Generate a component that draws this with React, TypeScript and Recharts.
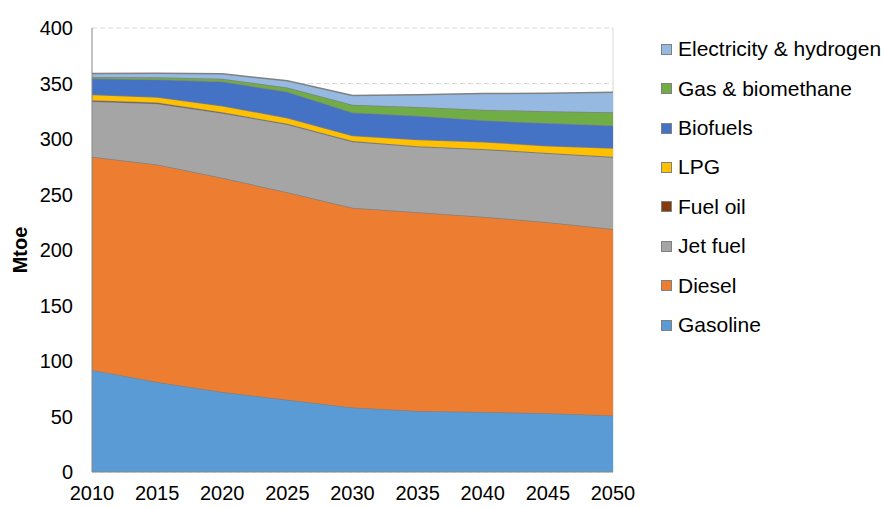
import { AreaChart, Area, XAxis, YAxis, CartesianGrid } from "recharts";

const years = [2010, 2015, 2020, 2025, 2030, 2035, 2040, 2045, 2050];

// Mtoe by fuel
const gasoline = [92, 81, 72, 65, 58, 55, 54, 53, 51];
const diesel = [192, 196, 193, 187, 180, 179, 176, 172, 168];
const jetFuel = [50, 55, 58.5, 61.3, 59.7, 59.2, 60.7, 62.2, 64.7];
const fuelOil = [1, 0.8, 0.5, 0.5, 0.4, 0.3, 0.3, 0.3, 0.3];
const lpg = [5, 5, 6, 5.4, 5, 6, 6.6, 6.5, 8];
const biofuels = [14.4, 15.9, 21.8, 23.4, 20.8, 21.5, 19.2, 20.4, 20.2];
const gasBiomethane = [1.5, 2, 2.5, 3.7, 7, 7.8, 9.6, 10.5, 12];
const electricity = [3, 3.6, 4.4, 6.2, 8.3, 11, 14.5, 16.3, 18];

const yTicks = [0, 50, 100, 150, 200, 250, 300, 350, 400];

// bottom of the stack first
const series = [
  { key: "gasoline", name: "Gasoline", values: gasoline, color: "#5b9bd5" },
  { key: "diesel", name: "Diesel", values: diesel, color: "#ed7d31" },
  { key: "jet", name: "Jet fuel", values: jetFuel, color: "#a5a5a5" },
  { key: "fuelOil", name: "Fuel oil", values: fuelOil, color: "#843c0c" },
  { key: "lpg", name: "LPG", values: lpg, color: "#ffc000" },
  { key: "bio", name: "Biofuels", values: biofuels, color: "#4472c4" },
  { key: "gas", name: "Gas & biomethane", values: gasBiomethane, color: "#70ad47" },
  { key: "elec", name: "Electricity & hydrogen", values: electricity, color: "#95b9e1" },
];

const data = years.map((year, i) => {
  const row: any = { year };
  series.forEach((s) => {
    row[s.key] = s.values[i];
  });
  return row;
});

const FONT = '"Liberation Sans", Arial, sans-serif';

export default function App() {
  return (
    <div
      style={{
        position: "absolute",
        left: 0,
        top: 0,
        width: 885,
        height: 508,
        background: "#fff",
        fontFamily: FONT,
      }}
    >
      <AreaChart
        width={885}
        height={508}
        data={data}
        margin={{ top: 28, right: 272, left: 0, bottom: 0 }}
      >
        <CartesianGrid vertical={false} stroke="#d9d9d9" strokeDasharray="5 3" />
        <CartesianGrid horizontal={false} verticalValues={[2050]} stroke="#d9d9d9" />
        <XAxis
          dataKey="year"
          interval={0}
          height={36}
          tickLine={false}
          tickSize={0}
          tickMargin={14}
          axisLine={{ stroke: "#868686" }}
          tick={{ fill: "#000", fontSize: 20, fontFamily: FONT }}
        />
        <YAxis
          width={92}
          domain={[0, 400]}
          ticks={yTicks}
          interval={0}
          tickLine={false}
          tickSize={0}
          tickMargin={19}
          axisLine={{ stroke: "#868686" }}
          tick={{ fill: "#000", fontSize: 20, fontFamily: FONT }}
        />
        {series.map((s) => (
          <Area
            key={s.key}
            type="linear"
            dataKey={s.key}
            name={s.name}
            stackId="1"
            fill={s.color}
            fillOpacity={1}
            stroke="#808080"
            strokeWidth={1.5}
            isAnimationActive={false}
          />
        ))}
      </AreaChart>

      <div
        style={{
          position: "absolute",
          left: 10,
          top: 250,
          transform: "translate(-50%, -50%) rotate(-90deg)",
          fontSize: 20,
          fontWeight: "bold",
          color: "#000",
          whiteSpace: "nowrap",
          marginLeft: 10,
        }}
      >
        Mtoe
      </div>

      <div style={{ position: "absolute", left: 661, top: 29.6 }}>
        {[...series].reverse().map((s) => (
          <div
            key={s.key}
            style={{
              height: 39.4,
              display: "flex",
              alignItems: "center",
              fontSize: 21,
              color: "#000",
              whiteSpace: "nowrap",
            }}
          >
            <span
              style={{
                display: "inline-block",
                width: 9,
                height: 9,
                background: s.color,
                border: "1px solid #808080",
                marginRight: 6,
              }}
            />
            {s.name}
          </div>
        ))}
      </div>
    </div>
  );
}
